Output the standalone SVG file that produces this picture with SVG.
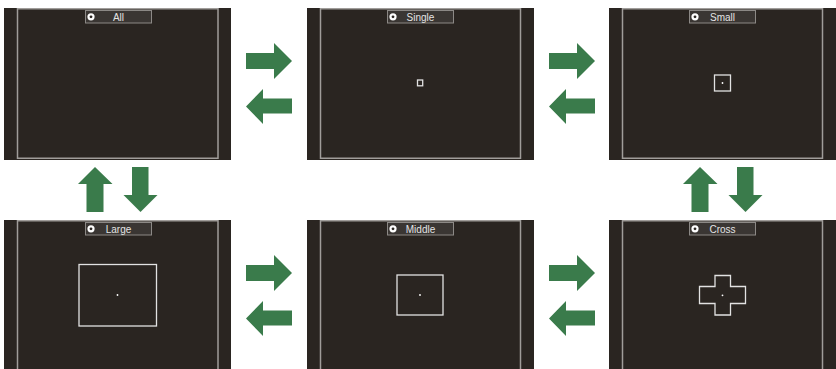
<svg xmlns="http://www.w3.org/2000/svg" xmlns:xlink="http://www.w3.org/1999/xlink" width="836" height="369" viewBox="0 0 836 369">
<style>
.bg{fill:#2a2521}
.frame{fill:none;stroke:#a09d9a;stroke-width:1.5}
.lbl{fill:#3a3633;stroke:#8c8986;stroke-width:1}
.ico{fill:#ffffff}
.icoc{fill:#2a2521}
.txt{font-family:"Liberation Sans Narrow","Liberation Sans",Arial,sans-serif;font-size:10px;fill:#e4e4e4;text-anchor:middle}
.af{fill:none;stroke:#e2e2e2;stroke-width:1.3}
.dot{fill:#ffffff}
.arr{fill:#3a7b4b}
</style>
<defs>
<g id="icon"><circle class="ico" cx="0" cy="0" r="3.6"/><circle class="icoc" cx="0" cy="0" r="1.4"/></g>
<polygon id="ra" points="246,53 274,53 274,43 292,61 274,79 274,69 246,69"/>
<polygon id="la" points="292,98.5 263,98.5 263,89 246,106.5 263,124 263,113.5 292,113.5"/>
<polygon id="ua" points="95,167 112.5,184 103.5,184 103.5,212 86.5,212 86.5,184 78,184"/>
<polygon id="da" points="132,167 148.5,167 148.5,195 157.5,195 140.5,212 123.5,195 132,195"/>
</defs>
<rect width="836" height="369" fill="#ffffff"/>

<g id="all">
<rect class="bg" x="4" y="8" width="227" height="152"/>
<rect class="frame" x="17.5" y="8.75" width="200.5" height="149.5"/>
<rect class="lbl" x="85.5" y="10.5" width="66" height="12.5"/>
<use xlink:href="#icon" x="91" y="16.8"/>
<text class="txt" x="118.5" y="20.5">All</text>
</g>

<g id="single">
<rect class="bg" x="307" y="8" width="227" height="152"/>
<rect class="frame" x="320.5" y="8.75" width="200" height="149.5"/>
<rect class="lbl" x="387.5" y="10.5" width="66" height="12.5"/>
<use xlink:href="#icon" x="393" y="16.8"/>
<text class="txt" x="420.5" y="20.5">Single</text>
<rect class="af" x="417.5" y="80" width="5.2" height="5.8"/>
</g>

<g id="small">
<rect class="bg" x="609" y="8" width="227" height="152"/>
<rect class="frame" x="622.5" y="8.75" width="200" height="149.5"/>
<rect class="lbl" x="689.5" y="10.5" width="66" height="12.5"/>
<use xlink:href="#icon" x="695" y="16.8"/>
<text class="txt" x="722.5" y="20.5">Small</text>
<rect class="af" x="714.5" y="75" width="16" height="16"/>
<circle class="dot" cx="722.5" cy="83" r="0.9"/>
</g>

<g id="large">
<rect class="bg" x="4" y="220" width="227" height="150"/>
<rect class="frame" x="17.5" y="220.75" width="200.5" height="152"/>
<rect class="lbl" x="85.5" y="222.5" width="66" height="12.5"/>
<use xlink:href="#icon" x="91" y="228.8"/>
<text class="txt" x="118.5" y="232.5">Large</text>
<rect class="af" x="79" y="264.5" width="77.5" height="61.5"/>
<circle class="dot" cx="117.5" cy="295" r="0.9"/>
</g>

<g id="middle">
<rect class="bg" x="307" y="220" width="227" height="150"/>
<rect class="frame" x="320.5" y="220.75" width="200" height="152"/>
<rect class="lbl" x="387.5" y="222.5" width="66" height="12.5"/>
<use xlink:href="#icon" x="393" y="228.8"/>
<text class="txt" x="420.5" y="232.5">Middle</text>
<rect class="af" x="397" y="275" width="46" height="40"/>
<circle class="dot" cx="420" cy="295" r="0.9"/>
</g>

<g id="cross">
<rect class="bg" x="609" y="220" width="227" height="150"/>
<rect class="frame" x="622.5" y="220.75" width="200" height="152"/>
<rect class="lbl" x="689.5" y="222.5" width="66" height="12.5"/>
<use xlink:href="#icon" x="695" y="228.8"/>
<text class="txt" x="722.5" y="232.5">Cross</text>
<path class="af" d="M715,275.5 H730.5 V286.5 H745.5 V303.5 H730.5 V315 H715 V303.5 H699.5 V286.5 H715 Z"/>
<circle class="dot" cx="722.5" cy="295.3" r="0.9"/>
</g>

<g id="connectors" class="arr">
<use xlink:href="#ra"/>
<use xlink:href="#la"/>
<use xlink:href="#ra" x="303"/>
<use xlink:href="#la" x="303"/>
<use xlink:href="#ra" y="212"/>
<use xlink:href="#la" y="212"/>
<use xlink:href="#ra" x="303" y="212"/>
<use xlink:href="#la" x="303" y="212"/>
<use xlink:href="#ua"/>
<use xlink:href="#da"/>
<use xlink:href="#ua" x="605"/>
<use xlink:href="#da" x="605"/>
</g>
</svg>
